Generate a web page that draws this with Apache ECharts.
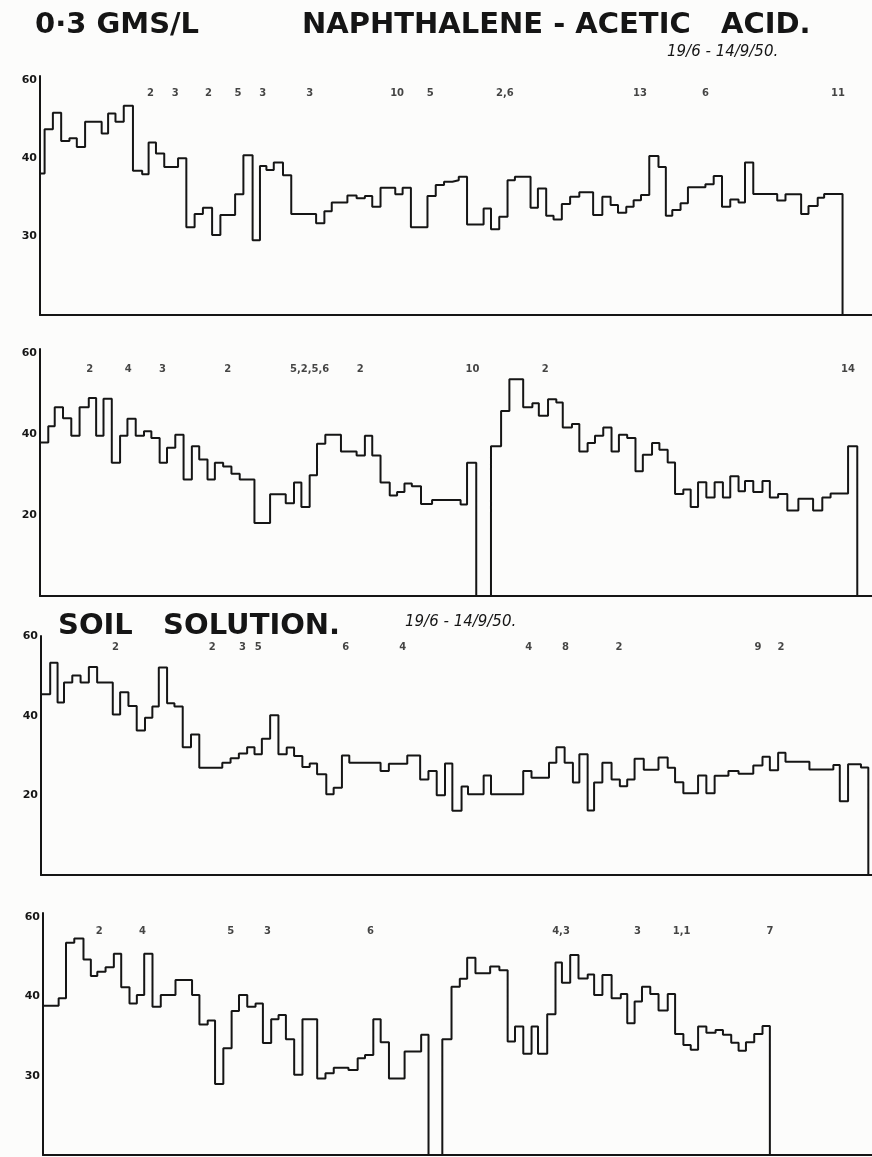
<!DOCTYPE html>
<html>
<head>
<meta charset="utf-8">
<script src="https://cdn.jsdelivr.net/npm/echarts@6/dist/echarts.min.js"></script>
<style>
  html, body { margin: 0; padding: 0; background: #fcfcfb; }
  #chart { width: 872px; height: 1157px; }
</style>
</head>
<body>
<div id="chart"></div>
<script>
// Daily records 19/6 - 14/9/50. Each panel: the day on which a step starts,
// the reading held over that step, and the day the record ends.

// Panel 1 - 0·3 gms/l naphthalene-acetic acid
const p1Days = [0, 0.5, 1.4, 2.3, 3.2, 4.0, 4.9, 6.7, 7.4, 8.2, 9.1, 10.1, 11.1, 11.8, 12.6, 13.5, 15.0, 15.9, 16.8, 17.7,
  18.7, 19.6, 21.2, 22.1, 23.1, 23.9, 24.6, 25.4, 26.4, 27.3, 30.0, 30.9, 31.7, 33.4, 34.4, 35.3, 36.1, 37.0, 38.6, 39.4,
  40.3, 42.1, 43.0, 43.9, 44.8, 45.5, 46.4, 48.2, 49.0, 49.9, 50.8, 51.6, 53.3, 54.1, 55.0, 55.8, 56.7, 57.6, 58.6, 60.1,
  61.1, 62.0, 62.8, 63.7, 64.5, 65.3, 66.2, 67.2, 68.0, 68.7, 69.6, 70.4, 72.3, 73.2, 74.1, 75.0, 75.9, 76.6, 77.5, 80.1,
  81.0, 82.7, 83.5, 84.5, 85.2];
const p1Vals = [36.1, 47.4, 51.6, 44.4, 45.1, 42.9, 49.3, 46.3, 51.4, 49.3, 53.4, 36.8, 35.9, 44.0, 41.2, 37.8, 40.0, 22.4, 25.8, 27.4,
  20.4, 25.5, 30.8, 40.8, 19.1, 38.0, 37.0, 38.9, 35.7, 25.8, 23.4, 26.5, 28.7, 30.5, 29.8, 30.4, 27.6, 32.5, 30.8, 32.5,
  22.4, 30.4, 33.2, 34.0, 34.4, 35.3, 23.1, 27.2, 21.9, 25.1, 34.4, 35.3, 27.4, 32.3, 25.3, 24.4, 28.3, 30.2, 31.3, 25.5,
  30.2, 28.1, 26.1, 27.6, 29.3, 30.6, 40.6, 37.8, 25.3, 26.8, 28.5, 32.6, 33.4, 35.5, 27.6, 29.5, 28.7, 38.9, 30.9, 29.2,
  30.8, 25.8, 27.8, 29.9, 30.9];
const p1End = 87.2;
const p1NoteDays = [12.0, 14.7, 18.3, 21.5, 24.2, 29.3, 38.8, 42.4, 50.5, 65.2, 72.3, 86.7];
const p1Notes = ['2', '3', '2', '5', '3', '3', '10', '5', '2,6', '13', '6', '11'];
const p1TickLabels = ['30', '40', '60'];

// Panel 2 - 0·3 gms/l naphthalene-acetic acid
const p2Days = [0, 0.9, 1.6, 2.5, 3.4, 4.3, 5.3, 6.1, 6.9, 7.8, 8.7, 9.5, 10.4, 11.3, 12.1, 13.0, 13.8, 14.7, 15.6, 16.5,
  17.3, 18.2, 19.0, 19.9, 20.8, 21.7, 23.3, 25.0, 26.7, 27.6, 28.4, 29.3, 30.1, 31.0, 32.7, 34.4, 35.3, 36.1, 37.0, 38.0,
  38.8, 39.6, 40.4, 41.4, 42.6, 45.7, 46.4, 47.4, 49.0, 50.1, 51.0, 52.5, 53.5, 54.2, 55.2, 56.1, 56.8, 57.8, 58.6, 59.5,
  60.3, 61.2, 62.1, 62.9, 63.8, 64.7, 65.5, 66.5, 67.3, 68.2, 69.0, 69.9, 70.7, 71.5, 72.4, 73.3, 74.2, 75.0, 75.9, 76.6,
  77.5, 78.5, 79.3, 80.2, 81.2, 82.4, 84.0, 85.0, 85.9, 87.8];
const p2Vals = [37.9, 41.9, 46.6, 43.9, 39.6, 46.6, 48.9, 39.6, 48.7, 32.9, 39.6, 43.8, 39.6, 40.7, 39.0, 32.9, 36.6, 39.8, 28.8, 37.0,
  33.7, 28.8, 32.9, 32.0, 30.2, 28.8, 18.0, 25.1, 22.9, 28.0, 22.0, 29.8, 37.6, 39.8, 35.7, 34.7, 39.6, 34.7, 28.0, 24.8,
  25.7, 27.8, 27.1, 22.7, 23.7, 22.6, 32.9, 0, 37.0, 45.7, 53.5, 46.6, 47.6, 44.5, 48.6, 47.8, 41.6, 42.5, 35.7, 37.8,
  39.6, 41.6, 35.7, 39.8, 39.0, 30.8, 34.9, 37.8, 36.1, 33.0, 25.2, 26.3, 22.0, 28.1, 24.3, 28.1, 24.3, 29.6, 25.9, 28.4,
  25.7, 28.4, 24.3, 25.2, 21.1, 24.0, 21.1, 24.3, 25.3, 37.0];
const p2End = 88.8;
const p2NoteDays = [5.4, 9.6, 13.3, 20.4, 29.3, 34.8, 47.0, 54.9, 87.8];
const p2Notes = ['2', '4', '3', '2', '5,2,5,6', '2', '10', '2', '14'];
const p2TickLabels = ['20', '40', '60'];

// Panel 3 - soil solution
const p3Days = [0, 1.0, 1.8, 2.5, 3.4, 4.3, 5.2, 6.1, 7.8, 8.6, 9.5, 10.4, 11.3, 12.1, 12.8, 13.7, 14.5, 15.4, 16.3, 17.2,
  19.7, 20.6, 21.5, 22.4, 23.2, 24.0, 24.9, 25.8, 26.7, 27.5, 28.4, 29.2, 30.0, 31.0, 31.8, 32.7, 33.5, 36.9, 37.8, 39.8,
  41.2, 42.1, 43.0, 43.9, 44.7, 45.7, 46.4, 48.1, 48.9, 52.4, 53.3, 55.2, 56.0, 56.9, 57.8, 58.5, 59.4, 60.1, 61.0, 62.0,
  62.9, 63.7, 64.5, 65.5, 67.1, 68.1, 68.9, 69.8, 71.4, 72.3, 73.2, 74.7, 75.8, 77.4, 78.4, 79.2, 80.1, 80.9, 83.5, 86.1,
  86.8, 87.7, 89.1];
const p3Vals = [45.4, 53.3, 43.3, 48.3, 50.1, 48.3, 52.2, 48.3, 40.3, 45.9, 42.4, 36.3, 39.5, 42.3, 52.1, 43.1, 42.3, 32.1, 35.3, 26.9,
  28.2, 29.3, 30.5, 32.1, 30.3, 34.2, 40.1, 30.3, 32.0, 29.9, 27.1, 28.0, 25.3, 20.3, 21.9, 30.0, 28.2, 26.1, 27.9, 30.0,
  24.0, 26.1, 20.0, 28.0, 16.1, 22.2, 20.3, 25.0, 20.3, 26.1, 24.4, 28.2, 32.1, 28.2, 23.2, 30.3, 16.2, 23.2, 28.2, 24.0,
  22.3, 24.0, 29.2, 26.4, 29.5, 26.9, 23.3, 20.5, 25.0, 20.5, 24.9, 26.1, 25.4, 27.5, 29.7, 26.3, 30.7, 28.4, 26.5, 27.6,
  18.5, 27.8, 27.0];
const p3End = 89.9;
const p3NoteDays = [8.1, 18.6, 21.9, 23.6, 33.1, 39.3, 53.0, 57.0, 62.8, 77.9, 80.4];
const p3Notes = ['2', '2', '3', '5', '6', '4', '4', '8', '2', '9', '2'];
const p3TickLabels = ['20', '40', '60'];

// Panel 4 - soil solution
const p4Days = [0, 1.7, 2.5, 3.4, 4.4, 5.2, 5.9, 6.8, 7.7, 8.5, 9.4, 10.2, 11.0, 11.9, 12.8, 14.4, 16.2, 17.0, 17.9, 18.7,
  19.6, 20.5, 21.3, 22.2, 23.1, 23.9, 24.8, 25.6, 26.4, 27.3, 28.2, 29.8, 30.7, 31.6, 33.2, 34.2, 35.0, 35.9, 36.7, 37.6,
  39.3, 41.1, 41.9, 43.4, 44.4, 45.3, 46.1, 47.0, 48.6, 49.6, 50.5, 51.3, 52.2, 53.1, 53.8, 54.8, 55.7, 56.4, 57.3, 58.2,
  59.2, 59.9, 60.8, 61.8, 62.8, 63.5, 64.3, 65.1, 66.0, 66.9, 67.9, 68.7, 69.6, 70.4, 71.2, 72.1, 73.1, 73.9, 74.8, 75.6,
  76.4, 77.3, 78.2];
const p4Vals = [37.6, 39.5, 53.5, 54.6, 49.3, 45.1, 46.2, 47.3, 50.7, 42.3, 38.2, 40.3, 50.7, 37.4, 40.3, 44.1, 40.3, 32.9, 33.9, 17.9,
  26.9, 36.3, 40.3, 37.4, 38.2, 28.2, 34.2, 35.3, 29.2, 20.2, 34.2, 19.3, 20.6, 22.0, 21.4, 24.4, 25.2, 34.2, 28.4, 19.3,
  26.1, 30.3, 0, 29.2, 42.4, 44.4, 49.7, 45.8, 47.5, 46.6, 28.6, 32.4, 25.5, 32.4, 25.5, 35.5, 48.5, 43.4, 50.4, 44.5,
  45.5, 40.3, 45.4, 39.5, 40.6, 33.2, 38.7, 42.4, 40.6, 36.4, 40.6, 30.5, 27.7, 26.5, 32.4, 30.8, 31.5, 30.3, 28.3, 26.3,
  28.4, 30.5, 32.5];
const p4End = 79.0;
const p4NoteDays = [6.1, 10.8, 20.4, 24.4, 35.6, 56.3, 64.6, 69.4, 79.0];
const p4Notes = ['2', '4', '5', '3', '6', '4,3', '3', '1,1', '7'];
const p4TickLabels = ['30', '40', '60'];

const tickValues = [20, 40, 60];

const ink = '#151515';
const hand = 'DejaVu Sans';

// Panel frames on the sheet
const panels = [
  { days: p1Days, vals: p1Vals, end: p1End, noteDays: p1NoteDays, notes: p1Notes, ticks: p1TickLabels,
    left: 40, top: 76, height: 239, yMax: 61, xMax: 90.4, noteAt: 56.6 },
  { days: p2Days, vals: p2Vals, end: p2End, noteDays: p2NoteDays, notes: p2Notes, ticks: p2TickLabels,
    left: 40, top: 349, height: 247, yMax: 61, xMax: 90.4, noteAt: 56.0 },
  { days: p3Days, vals: p3Vals, end: p3End, noteDays: p3NoteDays, notes: p3Notes, ticks: p3TickLabels,
    left: 41, top: 636, height: 239, yMax: 60, xMax: 90.3, noteAt: 57.2 },
  { days: p4Days, vals: p4Vals, end: p4End, noteDays: p4NoteDays, notes: p4Notes, ticks: p4TickLabels,
    left: 43, top: 913, height: 242, yMax: 61, xMax: 90.1, noteAt: 56.4 }
];

const headStyle = { fontFamily: hand, fontSize: 29, fontWeight: 'bold', color: ink };
const dateStyle = { fontFamily: hand, fontSize: 15, fontStyle: 'italic', fontWeight: 'normal', color: ink };

const option = {
  backgroundColor: '#fcfcfb',
  animation: false,
  title: [
    { text: '0·3 GMS/L', left: 30, top: 6, textStyle: headStyle },
    { text: 'NAPHTHALENE - ACETIC   ACID.', left: 297, top: 6, textStyle: headStyle },
    { text: '19/6 - 14/9/50.', left: 662, top: 40, textStyle: dateStyle },
    { text: 'SOIL   SOLUTION.', left: 53, top: 607, textStyle: headStyle },
    { text: '19/6 - 14/9/50.', left: 400, top: 610, textStyle: dateStyle }
  ],
  grid: [], xAxis: [], yAxis: [], series: []
};

panels.forEach((p, i) => {
  option.grid.push({ left: p.left, right: 0, top: p.top, height: p.height, outerBoundsMode: 'none', containLabel: false });
  option.xAxis.push({
    type: 'value', gridIndex: i, min: 0, max: p.xMax,
    axisLine: { show: true, onZero: false, lineStyle: { color: ink, width: 2 } },
    axisTick: { show: false }, axisLabel: { show: false }, splitLine: { show: false }
  });
  option.yAxis.push({
    type: 'value', gridIndex: i, min: 0, max: p.yMax,
    axisLine: { show: true, lineStyle: { color: ink, width: 2 } },
    axisTick: { show: false }, splitLine: { show: false },
    axisLabel: {
      customValues: tickValues,
      formatter: v => p.ticks[tickValues.indexOf(v)],
      color: ink, fontFamily: hand, fontSize: 11, fontWeight: 'bold', margin: 3
    }
  });
  const line = p.days.map((d, k) => [d, p.vals[k]]);
  line.push([p.end, 0]);
  option.series.push({
    type: 'line', xAxisIndex: i, yAxisIndex: i, step: 'end',
    showSymbol: false, symbol: 'none', data: line,
    lineStyle: { color: ink, width: 2 }
  });
  option.series.push({
    type: 'scatter', xAxisIndex: i, yAxisIndex: i, symbolSize: 1,
    itemStyle: { color: 'rgba(0,0,0,0)' },
    data: p.noteDays.map(d => [d, p.noteAt]),
    label: {
      show: true, position: 'inside',
      formatter: prm => p.notes[prm.dataIndex],
      color: ink, fontFamily: hand, fontSize: 10, fontWeight: 'bold'
    }
  });
});

const chart = echarts.init(document.getElementById('chart'), null, { renderer: 'canvas' });
chart.setOption(option);
</script>
</body>
</html>
